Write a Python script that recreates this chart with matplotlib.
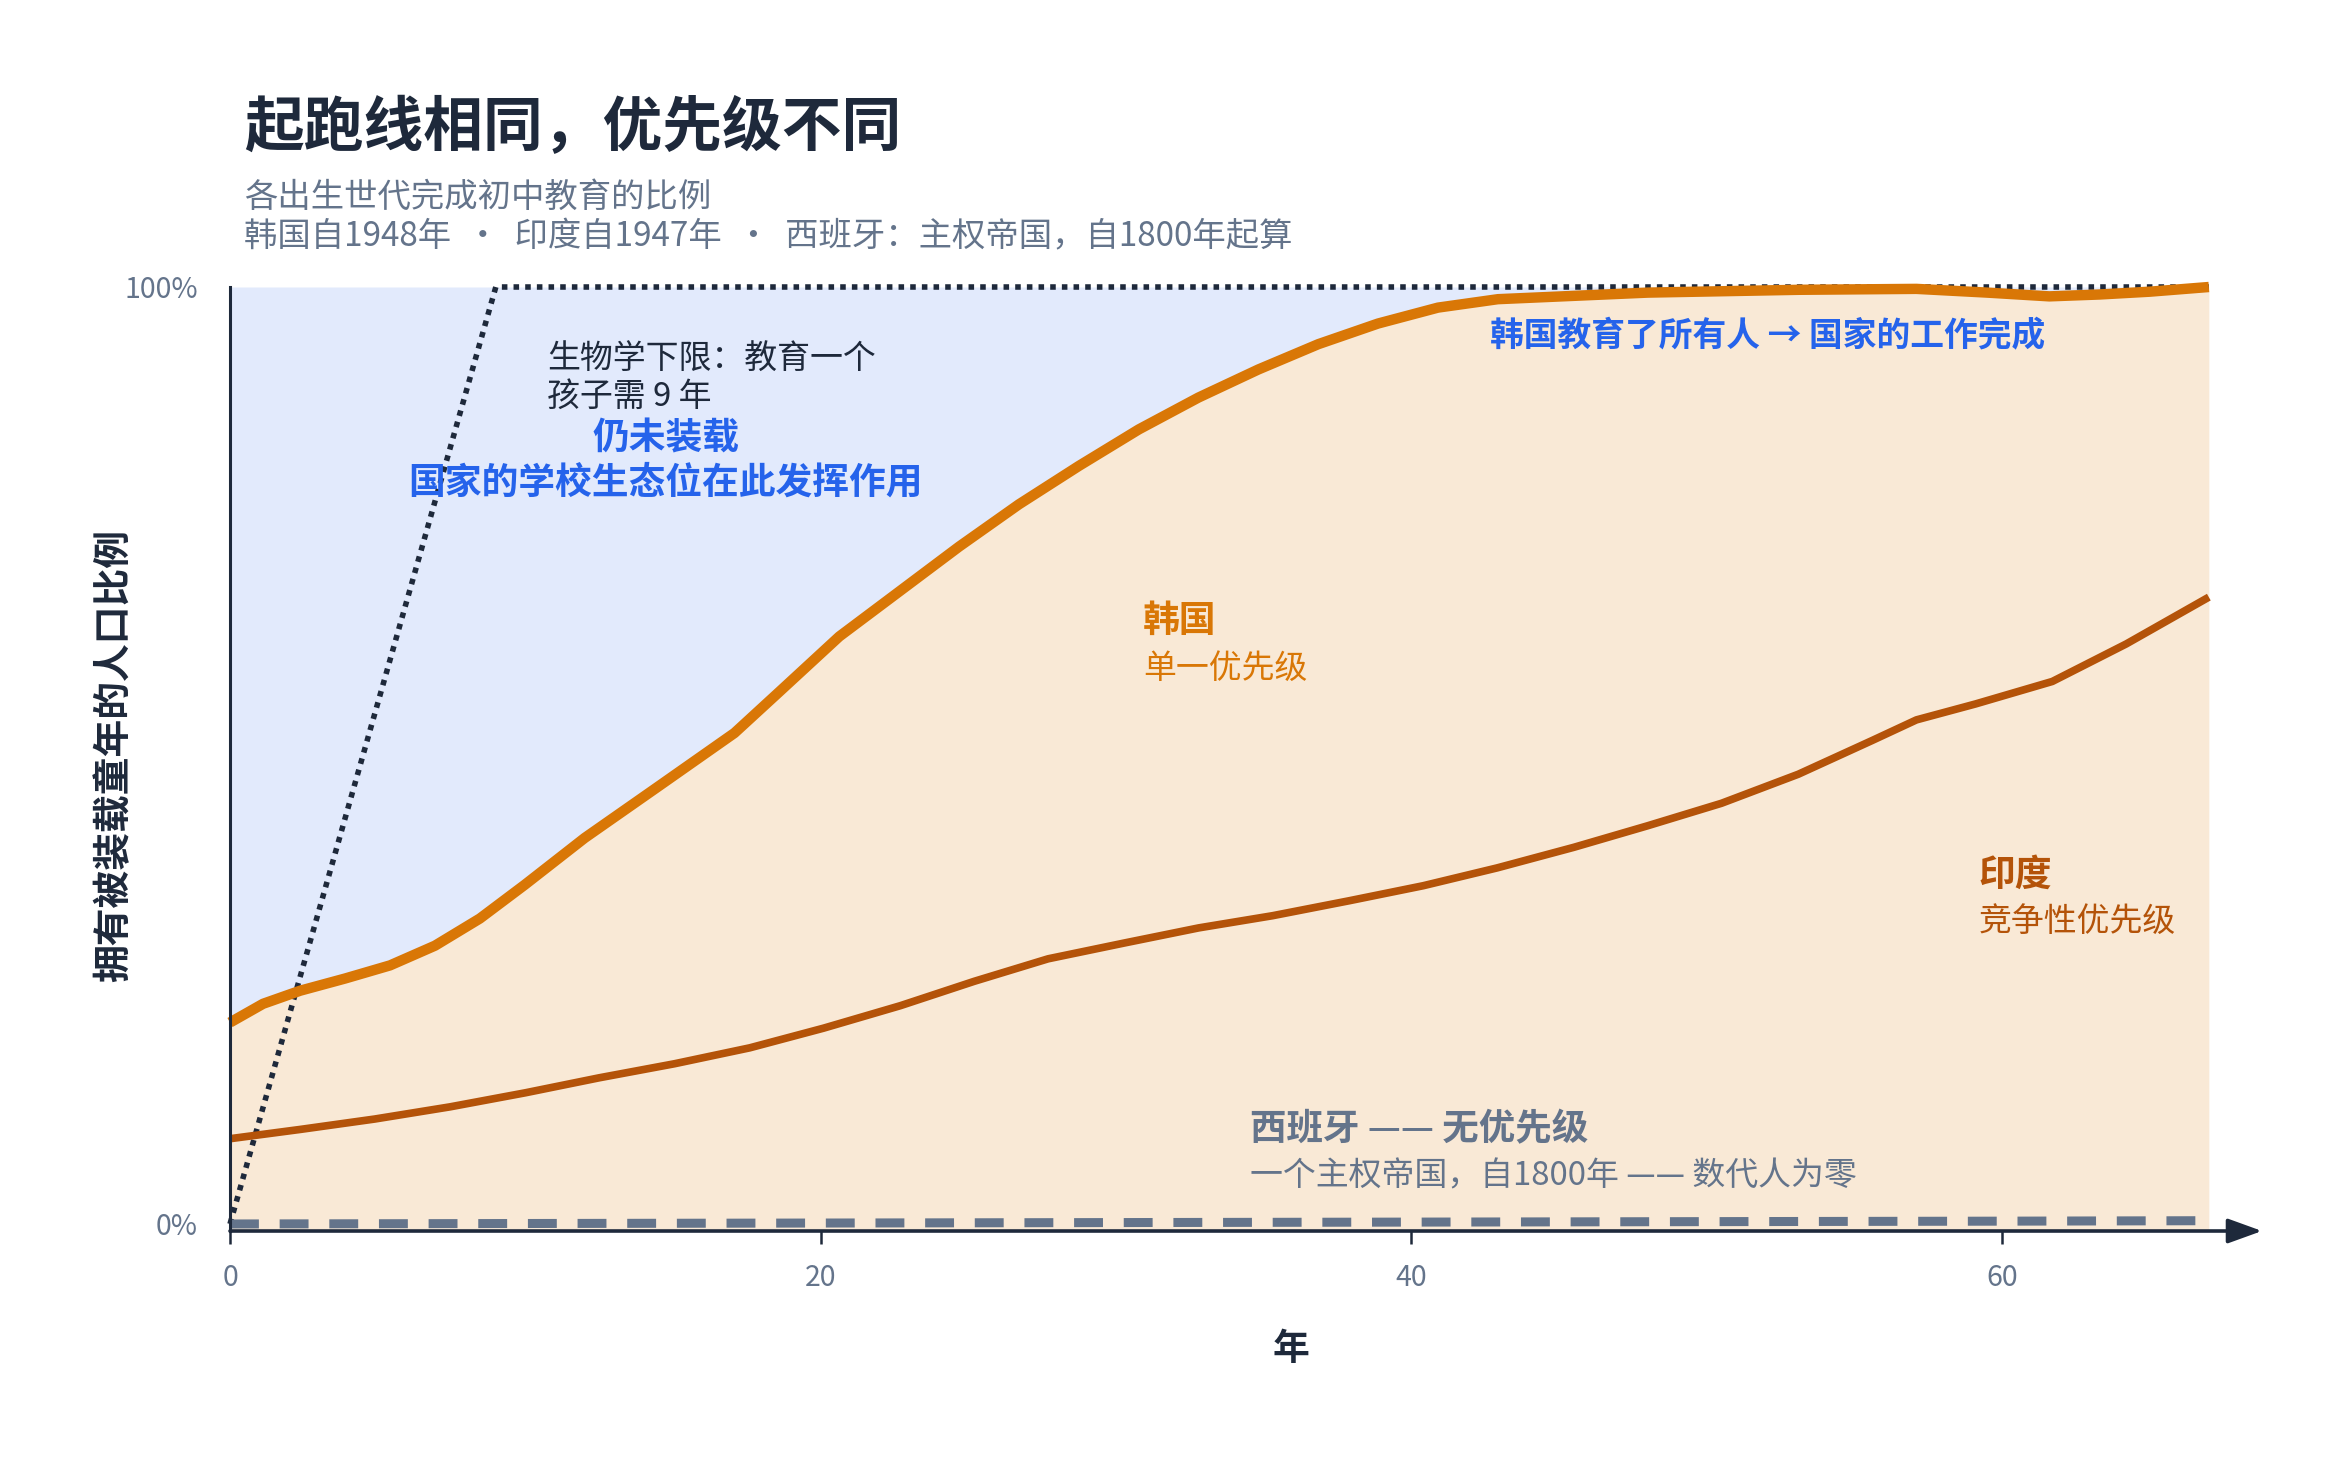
import matplotlib
matplotlib.use('Agg')
import matplotlib.pyplot as plt

plt.rcParams['font.family'] = ['Noto Sans CJK SC', 'DejaVu Sans']

# ---------------- data ----------------
korea_years = [0, 1.12, 2.38, 3.9, 5.42, 6.94, 8.46, 9.98, 12.01, 14.55, 17.08, 18.6,
               20.63, 22.66, 24.69, 26.71, 28.74, 30.77, 32.79, 34.82, 36.85, 38.87,
               40.9, 42.93, 48, 53.1, 57.1, 59.5, 61.6, 63.3, 65, 67]
korea_share = [21.5, 23.5, 24.9, 26.2, 27.6, 29.7, 32.6, 36.2, 41.2, 46.8, 52.4, 56.8,
               62.7, 67.5, 72.3, 76.8, 80.9, 84.8, 88.2, 91.2, 93.9, 96.1,
               97.8, 98.7, 99.4, 99.7, 99.8, 99.4, 99.0, 99.2, 99.5, 100]

india_years = [0, 2.4, 4.9, 7.45, 10, 12.5, 15.05, 17.6, 20.1, 22.7, 25.2, 27.7, 30.3,
               32.8, 35.3, 37.9, 40.4, 42.9, 45.5, 48, 50.5, 53.1, 55.6, 57.1, 59.1,
               61.7, 64.2, 67]
india_share = [9.1, 10.1, 11.2, 12.5, 14.0, 15.6, 17.1, 18.8, 20.9, 23.3, 25.9, 28.3, 30.0,
               31.6, 32.9, 34.5, 36.1, 38.0, 40.2, 42.5, 44.9, 48.0, 51.6, 53.8, 55.5,
               57.9, 61.9, 66.9]

spain_years = [0, 20, 40, 60, 67]
spain_share = [0.0, 0.1, 0.2, 0.3, 0.35]

bio_years = [0, 9, 67]
bio_share = [0, 100, 100]

x_ticks = [0, 20, 40, 60]
y_ticks = [0, 100]
y_tick_labels = ['0%', '100%']

title = '起跑线相同，优先级不同'
subtitle1 = '各出生世代完成初中教育的比例'
subtitle2 = '韩国自1948年  ·  印度自1947年  ·  西班牙：主权帝国，自1800年起算'
ylabel = '拥有被装载童年的人口比例'
xlabel = '年'

# ---------------- styles ----------------
DARK = '#1e293b'
GRAY = '#64748b'
BLUE = '#2563eb'
KOREA_C = '#d97706'
INDIA_C = '#b45309'
SPAIN_C = '#64748b'
BLUE_FILL = '#e2eafc'
PEACH_FILL = '#f9e9d6'

W, H = 2348, 1462
fig = plt.figure(figsize=(W / 100, H / 100), dpi=100)
ax = fig.add_axes([230 / W, 1 - 1231 / H, (2262 - 230) / W, (1231 - 287) / H])

YMIN = -0.75
ax.set_xlim(0, 68.8)
ax.set_ylim(YMIN, 100)

ax.fill_between(korea_years, korea_share, 100, color=BLUE_FILL, lw=0, zorder=1)
ax.fill_between(korea_years, YMIN, korea_share, color=PEACH_FILL, lw=0, zorder=1)

ax.plot(bio_years, bio_share, color=DARK, lw=4.0, linestyle=(0, (1, 1.1)),
        dash_capstyle='butt', zorder=2, clip_on=False)
ax.plot(spain_years, spain_share, color=SPAIN_C, lw=6.5, linestyle=(0, (3.2, 2.3)),
        dash_capstyle='butt', zorder=3)
ax.plot(india_years, india_share, color=INDIA_C, lw=5.5, solid_capstyle='butt',
        solid_joinstyle='round', zorder=3)
ax.plot(korea_years, korea_share, color=KOREA_C, lw=7.5, solid_capstyle='butt',
        solid_joinstyle='round', zorder=4, clip_on=False)

# spines
for s in ['top', 'right', 'bottom']:
    ax.spines[s].set_visible(False)
ax.spines['left'].set_color(DARK)
ax.spines['left'].set_linewidth(2.2)
ax.spines['left'].set_zorder(6)

ax.annotate('', xy=(1, 0), xytext=(0, 0), xycoords='axes fraction',
            textcoords='axes fraction',
            arrowprops=dict(arrowstyle='-|>,head_length=2.1,head_width=0.76',
                            mutation_scale=10, lw=2.6, color=DARK,
                            shrinkA=0, shrinkB=0),
            annotation_clip=False, zorder=6)

ax.set_xticks(x_ticks)
ax.set_xticklabels([str(t) for t in x_ticks])
ax.set_yticks(y_ticks)
ax.set_yticklabels(y_tick_labels)
ax.tick_params(axis='x', length=9, width=1.8, color=DARK, labelsize=20.5,
               labelcolor=GRAY, pad=14)
ax.tick_params(axis='y', length=0, labelsize=20.5, labelcolor=GRAY, pad=23)

# titles
fig.text(244 / W, 1 - 129 / H, title, fontsize=43, fontweight='heavy', color=DARK,
         ha='left', va='center')
fig.text(244 / W, 1 - 197.5 / H, subtitle1, fontsize=24, color=GRAY,
         ha='left', va='center')
fig.text(244 / W, 1 - 236.5 / H, subtitle2, fontsize=24, color=GRAY,
         ha='left', va='center')
fig.text(114 / W, 1 - 756 / H, ylabel, fontsize=27.2, fontweight='bold', color=DARK,
         ha='center', va='center', rotation=90)
fig.text(1291 / W, 1 - 1349.5 / H, xlabel, fontsize=26.5, fontweight='bold', color=DARK,
         ha='center', va='center')

# annotations
DY = -0.48
ax.text(10.73, 90.7 + DY, '生物学下限：教育一个\n孩子需 9 年', fontsize=23.7, color=DARK,
        ha='left', va='center', linespacing=1.2, zorder=7)
ax.text(14.76, 84.3 + DY, '仍未装载', fontsize=26.5, fontweight='bold', color=BLUE,
        ha='center', va='center', zorder=7)
ax.text(14.76, 79.5 + DY, '国家的学校生态位在此发挥作用', fontsize=26.5, fontweight='bold',
        color=BLUE, ha='center', va='center', zorder=7)
ax.text(42.67, 95.3 + DY, '韩国教育了所有人 → 国家的工作完成', fontsize=24.3, fontweight='bold',
        color=BLUE, ha='left', va='center', zorder=7)
ax.text(30.92, 64.8 + DY, '韩国', fontsize=26.5, fontweight='bold', color=KOREA_C,
        ha='left', va='center', zorder=7)
ax.text(30.92, 59.7 + DY, '单一优先级', fontsize=23.7, color=KOREA_C,
        ha='left', va='center', zorder=7)
ax.text(59.2, 37.7 + DY, '印度', fontsize=26.5, fontweight='bold', color=INDIA_C,
        ha='left', va='center', zorder=7)
ax.text(59.2, 32.7 + DY, '竞争性优先级', fontsize=23.7, color=INDIA_C,
        ha='left', va='center', zorder=7)
ax.text(34.54, 10.5 + DY, '西班牙 —— 无优先级', fontsize=26.3, fontweight='bold', color=SPAIN_C,
        ha='left', va='center', zorder=7)
ax.text(34.54, 5.5 + DY, '一个主权帝国，自1800年 —— 数代人为零', fontsize=23.7, color=SPAIN_C,
        ha='left', va='center', zorder=7)

fig.savefig('out.png', dpi=100, facecolor='white')
